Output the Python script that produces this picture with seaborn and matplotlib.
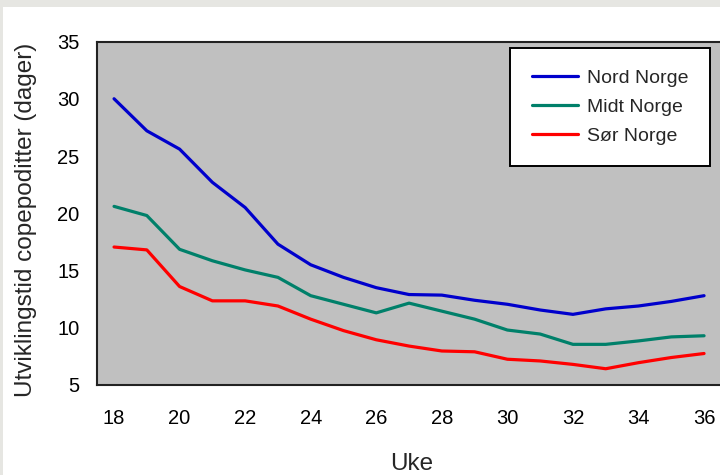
import matplotlib
matplotlib.use("Agg")
import matplotlib.pyplot as plt
from matplotlib.patches import Rectangle
import pandas as pd
import seaborn as sns

# Development time of copepodites per week, three regions
weeks = list(range(18, 37))
nord = [30.0, 27.2, 25.6, 22.7, 20.5, 17.3, 15.5, 14.4, 13.5, 12.9,
        12.85, 12.4, 12.05, 11.55, 11.17, 11.65, 11.9, 12.3, 12.8]
midt = [20.6, 19.8, 16.85, 15.85, 15.05, 14.4, 12.8, 12.05, 11.3, 12.15,
        11.45, 10.75, 9.8, 9.45, 8.55, 8.55, 8.85, 9.2, 9.3]
sor = [17.05, 16.8, 13.6, 12.35, 12.35, 11.9, 10.75, 9.75, 8.95, 8.4,
       7.97, 7.9, 7.25, 7.1, 6.8, 6.42, 6.95, 7.4, 7.75]
regions = ["Nord Norge", "Midt Norge", "Sør Norge"]
colors = ["#0000CC", "#00806A", "#FF0000"]
x_ticks = list(range(18, 37, 2))
y_ticks = list(range(5, 36, 5))

df = pd.DataFrame({
    "Uke": weeks * 3,
    "dager": nord + midt + sor,
    "region": [r for r, s in zip(regions, [nord, midt, sor]) for _ in s],
})

sns.set_style("white")
plt.rcParams["font.family"] = ["Liberation Sans", "DejaVu Sans"]

fig = plt.figure(figsize=(7.2, 4.75), dpi=100)
fig.patch.set_facecolor("white")
# light frame strips along the top and left edges
fig.patches.append(Rectangle((0, 1 - 7 / 475), 1, 7 / 475, transform=fig.transFigure,
                             facecolor="#E6E6E2", edgecolor="none", zorder=0))
fig.patches.append(Rectangle((0, 0), 3 / 720, 1, transform=fig.transFigure,
                             facecolor="#E6E6E2", edgecolor="none", zorder=0))

ax = fig.add_axes([97 / 720, 90 / 475, 630 / 720, 343.5 / 475])
ax.set_facecolor("#C0C0C0")

sns.lineplot(data=df, x="Uke", y="dager", hue="region", hue_order=regions,
             palette=colors, linewidth=2.3, ax=ax)

ax.set_xlim(17.48, 36.7)
ax.set_ylim(5, 35)
ax.set_xticks(x_ticks)
ax.set_yticks(y_ticks)
ax.tick_params(axis="both", direction="out", length=6.5, width=1.2, color="#222222",
               labelsize=14.5, labelcolor="black")
ax.tick_params(axis="x", pad=11)
ax.tick_params(axis="y", pad=6)
for side in ["left", "bottom", "top", "right"]:
    ax.spines[side].set_visible(True)
    ax.spines[side].set_color("#222222")
    ax.spines[side].set_linewidth(1.5)

ax.set_xlabel("Uke", fontsize=17.5, labelpad=18)
ax.set_ylabel("Utviklingstid copepoditter (dager)", fontsize=17.5, labelpad=15)
ax.yaxis.set_label_coords(-0.096, 0.48)

leg = ax.legend(loc="upper right", bbox_to_anchor=(710 / 720, 1 - 48 / 475),
                bbox_transform=fig.transFigure, fontsize=14, frameon=True,
                fancybox=False, handlelength=2.4, handletextpad=0.45,
                labelspacing=0.58, borderpad=1.1, borderaxespad=0)
leg.get_frame().set_edgecolor("black")
leg.get_frame().set_linewidth(1.4)
leg.get_frame().set_facecolor("white")
leg.get_frame().set_alpha(1)
for line in leg.get_lines():
    line.set_linewidth(2.3)

fig.savefig("out.png", dpi=100)
